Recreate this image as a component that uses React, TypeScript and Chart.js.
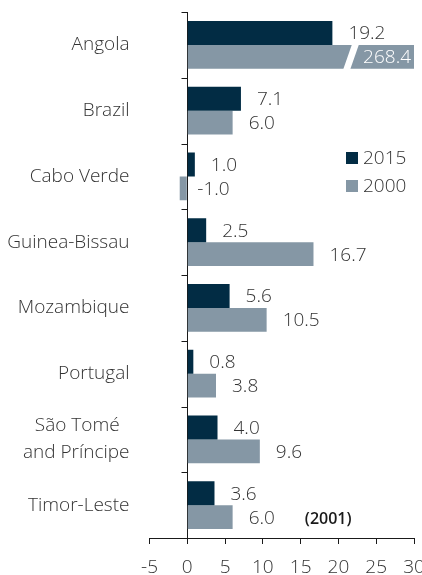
import React, { useEffect, useRef } from 'react';
import { Chart, registerables } from 'chart.js';

Chart.register(...registerables);

const categories: (string | string[])[] = [
  'Angola',
  'Brazil',
  'Cabo Verde',
  'Guinea-Bissau',
  'Mozambique',
  'Portugal',
  ['São Tomé\u00A0\u00A0', 'and Príncipe'],
  'Timor-Leste',
];
const values2015 = [19.2, 7.1, 1.0, 2.5, 5.6, 0.8, 4.0, 3.6];
const values2000 = [268.4, 6.0, -1.0, 16.7, 10.5, 3.8, 9.6, 6.0];
const notes2000 = ['', '', '', '', '', '', '', '(2001)'];
const seriesNames = ['2015', '2000'];
const seriesColors = ['#022c44', '#8597a5'];
const xMin = -5;
const xMax = 30;
const xStep = 5;

const TEXT = '#333333';
const AXIS = '#1a1a1a';
const FONT = '"Open Sans", sans-serif';
const W = 300;
const FS = 19;

const overlayPlugin = {
  id: 'overlay',
  afterDatasetsDraw(chart: any) {
    const ctx = chart.ctx;
    const xs = chart.scales.x;
    const area = chart.chartArea;
    const x0 = xs.getPixelForValue(0);
    ctx.save();
    ctx.textBaseline = 'middle';
    chart.data.datasets.forEach((ds: any, di: number) => {
      const meta = chart.getDatasetMeta(di);
      meta.data.forEach((bar: any, i: number) => {
        const v = ds.data[i] as number;
        const label = v.toFixed(1);
        ctx.font = `${W} ${FS}px ${FONT}`;
        if (v > xs.max) {
          ctx.fillStyle = '#ffffff';
          ctx.textAlign = 'right';
          const tx = area.right - 3;
          ctx.fillText(label, tx, bar.y + 1);
          const w = ctx.measureText(label).width;
          const c = tx - w - 12;
          const top = bar.y - bar.height / 2 - 1;
          const bot = bar.y + bar.height / 2 + 1;
          ctx.beginPath();
          ctx.moveTo(c + 4.5 - 3.5, top);
          ctx.lineTo(c + 4.5 + 3.5, top);
          ctx.lineTo(c - 4.5 + 3.5, bot);
          ctx.lineTo(c - 4.5 - 3.5, bot);
          ctx.closePath();
          ctx.fill();
        } else {
          ctx.fillStyle = TEXT;
          ctx.textAlign = 'left';
          const tx = v >= 0 ? bar.x + 16 : x0 + 10;
          ctx.fillText(label, tx, bar.y + 1);
          const note = di === 1 ? notes2000[i] : '';
          if (note) {
            const w = ctx.measureText(label).width;
            ctx.font = `600 16px ${FONT}`;
            ctx.fillStyle = '#1a1a1a';
            ctx.fillText(note, tx + w + 30, bar.y + 2);
          }
        }
      });
    });
    // legend
    const lx = area.right - 68;
    const ly = area.top + 146;
    chart.data.datasets.forEach((ds: any, di: number) => {
      const cy = ly + di * 28;
      ctx.fillStyle = ds.backgroundColor;
      ctx.fillRect(lx, cy - 6, 12, 12);
      ctx.fillStyle = TEXT;
      ctx.textAlign = 'left';
      ctx.font = `${W} ${FS}px ${FONT}`;
      ctx.fillText(ds.label, lx + 17, cy + 1);
    });
    ctx.restore();
  },
  afterDraw(chart: any) {
    const ctx = chart.ctx;
    const xs = chart.scales.x;
    const ys = chart.scales.y;
    const x0 = Math.round(xs.getPixelForValue(0)) + 0.5;
    ctx.save();
    ctx.strokeStyle = AXIS;
    ctx.lineWidth = 1;
    for (let i = 0; i <= categories.length; i++) {
      const yy = Math.round(ys.getPixelForValue(i - 0.5)) + 0.5;
      ctx.beginPath();
      ctx.moveTo(x0 - 6, yy);
      ctx.lineTo(x0, yy);
      ctx.stroke();
    }
    ctx.restore();
  },
};

export default function App() {
  const ref = useRef<HTMLCanvasElement | null>(null);
  useEffect(() => {
    if (!ref.current) return;
    Chart.defaults.font.family = FONT;
    const chart = new Chart(ref.current, {
      type: 'bar',
      data: {
        labels: categories as any,
        datasets: [
          {
            label: seriesNames[0],
            data: values2015,
            backgroundColor: seriesColors[0],
            borderWidth: 0,
            categoryPercentage: 0.73,
            barPercentage: 1,
          },
          {
            label: seriesNames[1],
            data: values2000,
            backgroundColor: seriesColors[1],
            borderWidth: 0,
            categoryPercentage: 0.73,
            barPercentage: 1,
          },
        ],
      },
      options: {
        indexAxis: 'y',
        responsive: false,
        animation: false,
        layout: { padding: { top: 12, right: 8, left: 0, bottom: 0 } },
        plugins: {
          legend: { display: false },
          tooltip: { enabled: false },
        },
        scales: {
          x: {
            type: 'linear',
            min: xMin,
            max: xMax,
            ticks: {
              stepSize: xStep,
              color: TEXT,
              font: { size: FS, family: FONT, weight: W as any },
              padding: 12,
              maxRotation: 0,
            },
            grid: {
              display: true,
              drawOnChartArea: true,
              drawTicks: true,
              tickLength: 6,
              color: (c: any) => (c.tick && c.tick.value === 0 ? AXIS : 'rgba(0,0,0,0)'),
              tickColor: AXIS,
              lineWidth: 1,
            },
            border: { display: true, color: AXIS, width: 1 },
            afterFit: (s: any) => {
              s.height = 37;
              s.paddingLeft = 0;
              s.paddingRight = 0;
            },
          },
          y: {
            type: 'category',
            ticks: {
              color: TEXT,
              font: { size: FS, family: FONT, lineHeight: 1.4, weight: W as any },
              padding: 20,
              autoSkip: false,
            },
            grid: { display: false, drawTicks: false },
            border: { display: false },
            afterFit: (s: any) => {
              s.width = 149.5;
              s.paddingTop = 0;
              s.paddingBottom = 0;
            },
          },
        },
      },
      plugins: [overlayPlugin],
    });
    return () => chart.destroy();
  }, []);
  return (
    <div style={{ position: 'absolute', left: 0, top: 0, width: 422, height: 575, background: '#fff' }}>
      <canvas ref={ref} width={422} height={575} style={{ display: 'block' }} />
    </div>
  );
}
